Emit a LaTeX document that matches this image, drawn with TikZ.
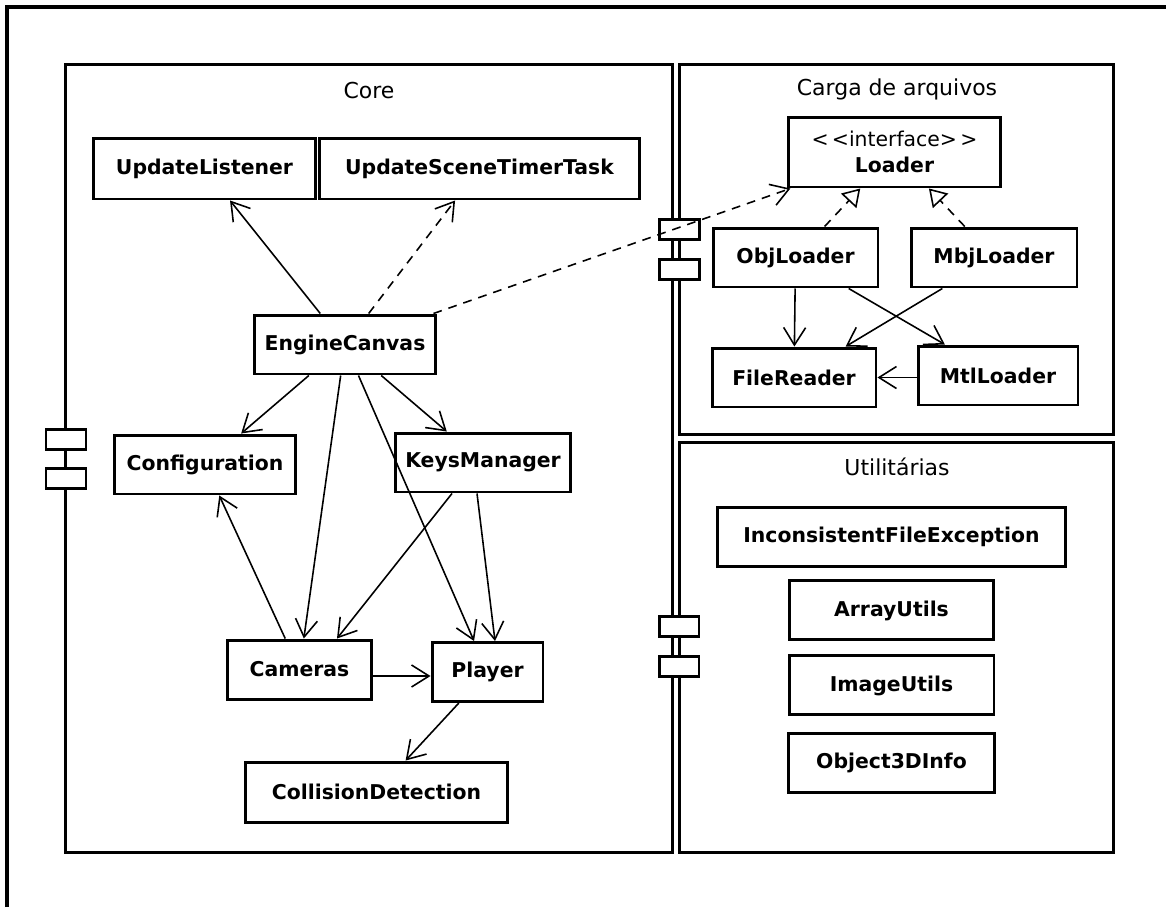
\documentclass[tikz,border=0pt]{standalone}
\usepackage{fontspec}
\setmainfont{DejaVu Sans}
\usepackage{tikz}
\usetikzlibrary{arrows.meta,positioning}
\tikzset{
    comp/.style={rectangle, draw, line width=1.7pt, inner sep=0pt},
    ctitle/.style={font=\fontsize{12.5}{14}\selectfont, inner sep=0pt},
    cls/.style={rectangle, draw, line width=1.7pt, minimum height=1.18cm, align=center, font=\fontsize{11.6}{13.5}\selectfont\bfseries, fill=white, inner sep=2pt},
    port/.style={rectangle, draw, line width=1.7pt, minimum width=0.8cm, minimum height=0.4cm, inner sep=0pt, fill=white},
    assoc/.style={-{Straight Barb[length=3.5mm, width=4.4mm]}, line width=0.9pt},
    dep/.style={assoc, dash pattern=on 5pt off 4pt},
    impl/.style={-{Triangle[open, length=3.4mm, width=4.2mm]}, line width=0.9pt, dash pattern=on 5pt off 4pt},
}

\begin{document}
\begin{tikzpicture}[x=0.02cm, y=-0.02cm]
    \useasboundingbox (0,0) rectangle (1166,907);
    \draw[line width=1.9pt] (7,907) -- (7,7) -- (1166,7);

    % components
    \node[comp, minimum width=12.16cm, minimum height=15.78cm] (core) at (369,458.5) {};
    \node[comp, minimum width=8.7cm, minimum height=7.42cm] (carga) at (896.5,249.5) {};
    \node[comp, minimum width=8.7cm, minimum height=8.22cm] (util) at (896.5,647.5) {};
    \node[ctitle] (coretitle) at (369,90) {Core};
    \node[ctitle] (cargatitle) at (897,89) {Carga de arquivos};
    \node[ctitle] (utiltitle) at (897,467) {Utilitárias};
    \node[port] (coreporta) at (66,439.5) {};
    \node[port] (coreportb) at (66,478.5) {};
    \node[port] (cargaporta) at (679.5,229.5) {};
    \node[port] (cargaportb) at (679.5,269.5) {};
    \node[port] (utilporta) at (679,626.5) {};
    \node[port] (utilportb) at (679,666) {};

    % Core
    \node[cls, minimum width=4.46cm, minimum height=1.22cm] (ul) at (204.5,168.5) {UpdateListener};
    \node[cls, minimum width=6.42cm, minimum height=1.22cm] (ustt) at (479.5,168.5) {UpdateSceneTimerTask};
    \node[cls, minimum width=3.64cm] (engine) at (345,344.5) {EngineCanvas};
    \node[cls, minimum width=3.64cm] (config) at (205,464.5) {Configuration};
    \node[cls, minimum width=3.52cm] (keys) at (483,462.5) {KeysManager};
    \node[cls, minimum width=2.9cm] (cams) at (299.5,669.5) {Cameras};
    \node[cls, minimum width=2.22cm] (player) at (487.5,672) {Player};
    \node[cls, minimum width=5.26cm, minimum height=1.2cm] (coll) at (376.5,792) {CollisionDetection};

    % Carga de arquivos
    \node[cls, minimum width=4.26cm, minimum height=1.4cm] (loader) at (894.5,152) {{\mdseries <\,<interface>\,>}\\[1pt]Loader};
    \node[cls, minimum width=3.3cm] (objl) at (795.5,257.5) {ObjLoader};
    \node[cls, minimum width=3.32cm] (mbjl) at (994,257.5) {MbjLoader};
    \node[cls, minimum width=3.28cm] (filer) at (794,377.5) {FileReader};
    \node[cls, minimum width=3.2cm] (mtll) at (998,375.5) {MtlLoader};

    % Utilitarias
    \node[cls, minimum width=6.98cm] (ife) at (891.5,536.5) {InconsistentFileException};
    \node[cls, minimum width=4.08cm, below=0.24cm of ife] (arr) {ArrayUtils};
    \node[cls, minimum width=4.1cm, below=0.26cm of arr] (img) {ImageUtils};
    \node[cls, minimum width=4.12cm, below=0.32cm of img] (obj3d) {Object3DInfo};

    \draw[assoc] (engine) -- (ul);
    \draw[dep] (engine) -- (ustt);
    \draw[dep] (engine) -- (loader);
    \draw[assoc] (engine) -- (config);
    \draw[assoc] (engine) -- (cams);
    \draw[assoc] (engine) -- (player);
    \draw[assoc] (engine) -- (keys);
    \draw[assoc] (cams) -- (config);
    \draw[assoc] ([xshift=-0.62cm]keys.south) -- ([xshift=0.75cm]cams.north);
    \draw[assoc] ([xshift=-0.12cm]keys.south) -- ([xshift=0.15cm]player.north);
    \draw[assoc] ([yshift=-0.13cm]cams.east) -- ([yshift=-0.13cm]cams.east -| player.west);
    \draw[assoc] (player) -- (coll);
    \draw[impl] (objl) -- (loader);
    \draw[impl] (mbjl) -- (loader);
    \draw[assoc] (objl) -- (filer);
    \draw[assoc] (objl) -- (mtll);
    \draw[assoc] (mbjl) -- (filer);
    \draw[assoc] (mtll.west |- filer.east) -- (filer.east);
\end{tikzpicture}
\end{document}
